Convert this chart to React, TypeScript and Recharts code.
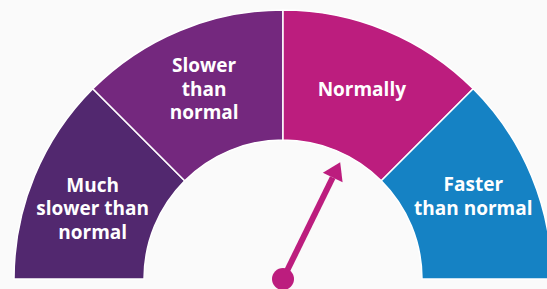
import { PieChart, Pie, Cell, Customized } from 'recharts';

const categories = ['Much\nslower than\nnormal', 'Slower\nthan\nnormal', 'Normally', 'Faster\nthan normal'];
const segmentValues = [1, 1, 1, 1];
const colors = ['#52286f', '#74287e', '#bc1d7e', '#1582c4'];
const needleValue = 2.58;

const data = categories.map((name, i) => ({ name, value: segmentValues[i] }));
const total = segmentValues.reduce((a, b) => a + b, 0);

const CX = 283;
const CY = 279;
const INNER = 139;
const OUTER = 269;
const RAD = Math.PI / 180;
const labelNudge = [8, 0, 0, -4];

function renderLabel(props: any) {
    const { cx, cy, midAngle, index } = props;
    const r = 206;
    const x = cx + r * Math.cos(-midAngle * RAD);
    const y = cy + r * Math.sin(-midAngle * RAD) + labelNudge[index];
    const lines = categories[index].split('\n');
    const lh = 23.5;
    const start = y - ((lines.length - 1) * lh) / 2;
    return (
        <text
            key={index}
            x={x}
            y={y}
            fill="#ffffff"
            textAnchor="middle"
            dominantBaseline="central"
            fontFamily="'Open Sans', sans-serif"
            fontWeight={700}
            fontSize={19}
        >
            {lines.map((l, i) => (
                <tspan key={i} x={x} y={start + i * lh}>{l}</tspan>
            ))}
        </text>
    );
}

function Needle() {
    const angle = (180 - (needleValue / total) * 180) * RAD;
    const ux = Math.cos(angle);
    const uy = -Math.sin(angle);
    const px = -uy;
    const py = ux;
    const tipR = 130;
    const baseR = 113;
    const half = 11;
    const tip = [CX + ux * tipR, CY + uy * tipR];
    const b = [CX + ux * baseR, CY + uy * baseR];
    const color = '#bc1d7e';
    return (
        <g>
            <line x1={CX} y1={CY} x2={b[0]} y2={b[1]} stroke={color} strokeWidth={6} />
            <polygon
                points={`${tip[0]},${tip[1]} ${b[0] + px * half},${b[1] + py * half} ${b[0] - px * half},${b[1] - py * half}`}
                fill={color}
            />
            <circle cx={CX} cy={CY} r={11} fill={color} />
        </g>
    );
}

export default function App() {
    return (
        <div style={{ position: 'fixed', left: 0, top: 0, width: 547, height: 289, background: '#fafafa' }}>
            <PieChart width={547} height={289} margin={{ top: 0, right: 0, bottom: 0, left: 0 }}>
                <Pie
                    data={data}
                    dataKey="value"
                    cx={CX}
                    cy={CY}
                    startAngle={180}
                    endAngle={0}
                    innerRadius={INNER}
                    outerRadius={OUTER}
                    stroke="#ffffff"
                    strokeWidth={1.5}
                    label={renderLabel}
                    labelLine={false}
                    isAnimationActive={false}
                >
                    {data.map((d, i) => (
                        <Cell key={d.name} fill={colors[i]} />
                    ))}
                </Pie>
                <Customized component={Needle} />
            </PieChart>
        </div>
    );
}
